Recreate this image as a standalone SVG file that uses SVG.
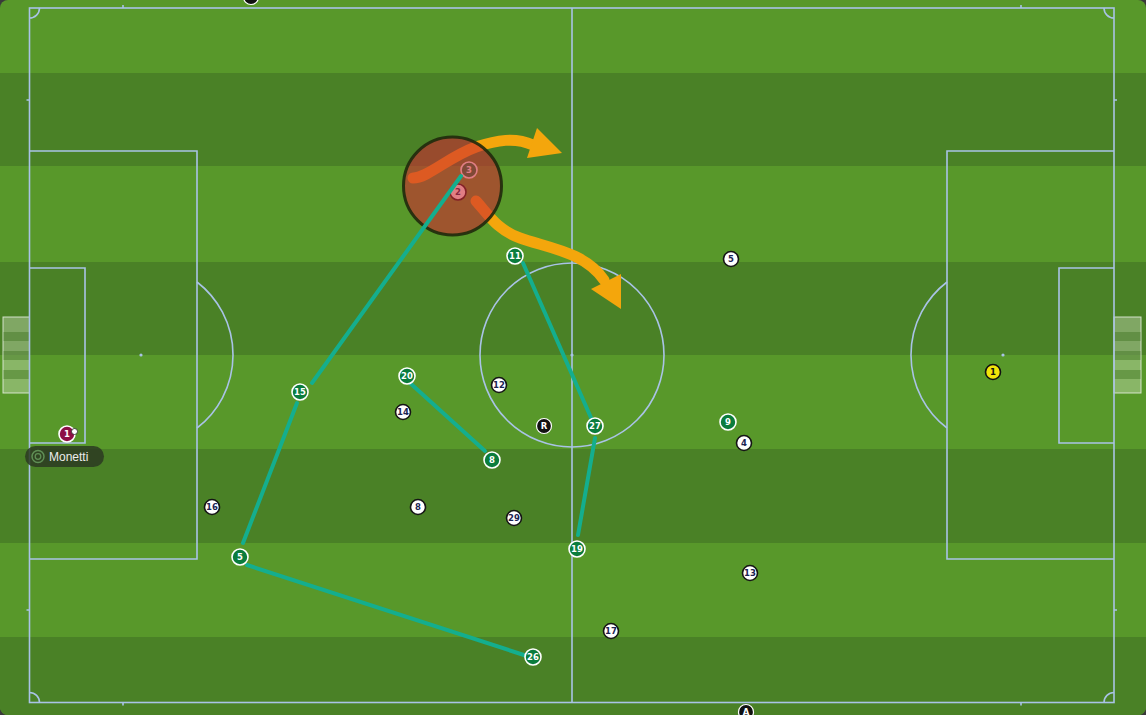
<svg xmlns="http://www.w3.org/2000/svg" width="1146" height="715" viewBox="0 0 1146 715">
<defs>
<style>
.line{fill:none;stroke:#a9c3e6;stroke-width:1.6}
.spot{fill:#a9c3e6}
.conn{stroke:#14ae8e;stroke-width:4;stroke-linecap:round;fill:none}
.arrow{fill:none;stroke:#f4a60c;stroke-width:11;stroke-linecap:round}
.head{fill:#f4a60c}
.g circle{fill:#0b7c3d;stroke:#fff;stroke-width:1.6}
.g text{fill:#fff}
.w circle{fill:#fff;stroke:#151515;stroke-width:1.6}
.w text{fill:#1b2452}
.k circle{fill:#111;stroke:#fff;stroke-width:1.2}
.k text{fill:#fff}
.n{font-family:"DejaVu Sans",sans-serif;font-weight:bold;font-size:8.5px;text-anchor:middle}
.net{fill:#e4eedb;fill-opacity:0.35;stroke:#e6efe0;stroke-opacity:0.85;stroke-width:1}
.netband{fill:#3d7420;fill-opacity:0.45}
</style>
</defs>
<rect width="1146" height="715" fill="#3a3a3a"/>
<g id="pitch">
<rect width="1146" height="715" rx="8" fill="#58982a"/>
<rect x="0" y="73" width="1146" height="93" fill="#4a8126"/>
<rect x="0" y="262" width="1146" height="93" fill="#4a8126"/>
<rect x="0" y="449" width="1146" height="94" fill="#4a8126"/>
<path d="M0,637 H1146 V707 A8,8 0 0 1 1138,715 H8 A8,8 0 0 1 0,707 Z" fill="#4a8126"/>
</g>
<g id="goal-left">
<rect class="net" x="3" y="317" width="26.5" height="76"/>
<rect class="netband" x="3.5" y="332" width="25.5" height="9"/>
<rect class="netband" x="3.5" y="351" width="25.5" height="9"/>
<rect class="netband" x="3.5" y="370" width="25.5" height="9"/>
</g>
<g id="goal-right">
<rect class="net" x="1114" y="317" width="27" height="76"/>
<rect class="netband" x="1114.5" y="332" width="26" height="9"/>
<rect class="netband" x="1114.5" y="351" width="26" height="9"/>
<rect class="netband" x="1114.5" y="370" width="26" height="9"/>
</g>
<g id="markings">
<rect class="line" x="29.5" y="8" width="1084.5" height="694.5"/>
<line class="line" x1="572" y1="8" x2="572" y2="702.5"/>
<circle class="line" cx="572" cy="355" r="92"/>
<path class="line" d="M29.5,151 H197 V559 H29.5"/>
<path class="line" d="M29.5,268 H85 V443 H29.5"/>
<path class="line" d="M197,282 A92,92 0 0 1 197,428"/>
<path class="line" d="M1114,151 H947 V559 H1114"/>
<path class="line" d="M1114,268 H1059 V443 H1114"/>
<path class="line" d="M947,282 A92,92 0 0 0 947,428"/>
<path class="line" d="M39.5,8 A10,10 0 0 1 29.5,18"/>
<path class="line" d="M1104,8 A10,10 0 0 0 1114,18"/>
<path class="line" d="M29.5,692.5 A10,10 0 0 1 39.5,702.5"/>
<path class="line" d="M1114,692.5 A10,10 0 0 0 1104,702.5"/>
<path class="line" d="M123,8 V5 M123,702.5 V705.5 M1021,8 V5 M1021,702.5 V705.5 M29.5,100 H26.5 M29.5,610 H26.5 M1114,100 H1117 M1114,610 H1117"/>
<circle class="spot" cx="141" cy="355" r="1.6"/>
<circle class="spot" cx="1003" cy="355" r="1.6"/>
<circle class="spot" cx="572" cy="355" r="1.6"/>
</g>
<g id="arrows">
<path class="arrow" d="M413,178 C428,178 448,157 476,147 C497,140 515,137 533,145"/>
<polygon class="head" points="537,128 562,153 527,158"/>
<path class="arrow" d="M476,201 C488,214 497,230 520,238 C548,248 585,252 604,280"/>
<polygon class="head" points="591,289 621,274 621,309"/>
</g>
<g id="p-green-3" class="g"><circle cx="469" cy="170" r="8"/><text class="n" x="469" y="173">3</text></g>
<g id="p-white-2" class="w"><circle cx="458" cy="192" r="8"/><text class="n" x="458" y="195">2</text></g>
<g id="pressure-zone">
<circle cx="452.5" cy="186" r="49" fill="rgb(205,40,50)" fill-opacity="0.6" stroke="#1f2a0c" stroke-opacity="0.9" stroke-width="3"/>
</g>
<g id="connectors">
<line class="conn" x1="461" y1="176" x2="312" y2="383"/>
<line class="conn" x1="297" y1="403" x2="243" y2="543"/>
<line class="conn" x1="247" y1="565" x2="527" y2="656"/>
<line class="conn" x1="410" y1="383" x2="485" y2="451"/>
<line class="conn" x1="523" y1="263" x2="592" y2="420"/>
<line class="conn" x1="595" y1="438" x2="578" y2="535"/>
</g>
<g id="p-green-11" class="g"><circle cx="515" cy="256" r="8"/><text class="n" x="515" y="259">11</text></g>
<g id="p-green-15" class="g"><circle cx="300" cy="392" r="8"/><text class="n" x="300" y="395">15</text></g>
<g id="p-green-20" class="g"><circle cx="407" cy="376" r="8"/><text class="n" x="407" y="379">20</text></g>
<g id="p-green-8" class="g"><circle cx="492" cy="460" r="8"/><text class="n" x="492" y="463">8</text></g>
<g id="p-green-27" class="g"><circle cx="595" cy="426" r="8"/><text class="n" x="595" y="429">27</text></g>
<g id="p-green-19" class="g"><circle cx="577" cy="549" r="8"/><text class="n" x="577" y="552">19</text></g>
<g id="p-green-5" class="g"><circle cx="240" cy="557" r="8"/><text class="n" x="240" y="560">5</text></g>
<g id="p-green-26" class="g"><circle cx="533" cy="657" r="8"/><text class="n" x="533" y="660">26</text></g>
<g id="p-green-9" class="g"><circle cx="728" cy="422" r="8"/><text class="n" x="728" y="425">9</text></g>
<g id="p-white-5" class="w"><circle cx="731" cy="259" r="7.5"/><text class="n" x="731" y="262">5</text></g>
<g id="p-white-12" class="w"><circle cx="499" cy="385" r="7.5"/><text class="n" x="499" y="388">12</text></g>
<g id="p-white-14" class="w"><circle cx="403" cy="412" r="7.5"/><text class="n" x="403" y="415">14</text></g>
<g id="p-white-4" class="w"><circle cx="744" cy="443" r="7.5"/><text class="n" x="744" y="446">4</text></g>
<g id="p-white-16" class="w"><circle cx="212" cy="507" r="7.5"/><text class="n" x="212" y="510">16</text></g>
<g id="p-white-8" class="w"><circle cx="418" cy="507" r="7.5"/><text class="n" x="418" y="510">8</text></g>
<g id="p-white-29" class="w"><circle cx="514" cy="518" r="7.5"/><text class="n" x="514" y="521">29</text></g>
<g id="p-white-13" class="w"><circle cx="750" cy="573" r="7.5"/><text class="n" x="750" y="576">13</text></g>
<g id="p-white-17" class="w"><circle cx="611" cy="631" r="7.5"/><text class="n" x="611" y="634">17</text></g>
<g id="referee" class="k"><circle cx="544" cy="426" r="7.5"/><text class="n" x="544" y="429">R</text></g>
<g id="assistant-top" class="k"><circle cx="251" cy="-3" r="7.5"/></g>
<g id="assistant-bottom" class="k"><circle cx="746" cy="712" r="7.5"/><text class="n" x="746" y="715">A</text></g>
<g id="gk-yellow-1"><circle cx="993" cy="372" r="7.5" fill="#f2e40a" stroke="#111" stroke-width="1.6"/><text class="n" x="993" y="375" fill="#111">1</text></g>
<g id="gk-monetti">
<circle cx="67" cy="434" r="8" fill="#8c0f45" stroke="#fff" stroke-width="1.6"/>
<text class="n" x="67" y="437" fill="#fff">1</text>
<circle cx="74.5" cy="431.5" r="3" fill="#fff" stroke="#222" stroke-width="0.8"/>
<rect x="25" y="446" width="79" height="21" rx="10.5" fill="#2b3a22" fill-opacity="0.85"/>
<circle cx="38" cy="456.5" r="6" fill="none" stroke="#5f8f55" stroke-width="1.5"/>
<circle cx="38" cy="456.5" r="2.8" fill="none" stroke="#5f8f55" stroke-width="1.3"/>
<text x="49" y="461" font-family="Liberation Sans, Arial, sans-serif" font-size="12" fill="#ececec">Monetti</text>
</g>
</svg>
